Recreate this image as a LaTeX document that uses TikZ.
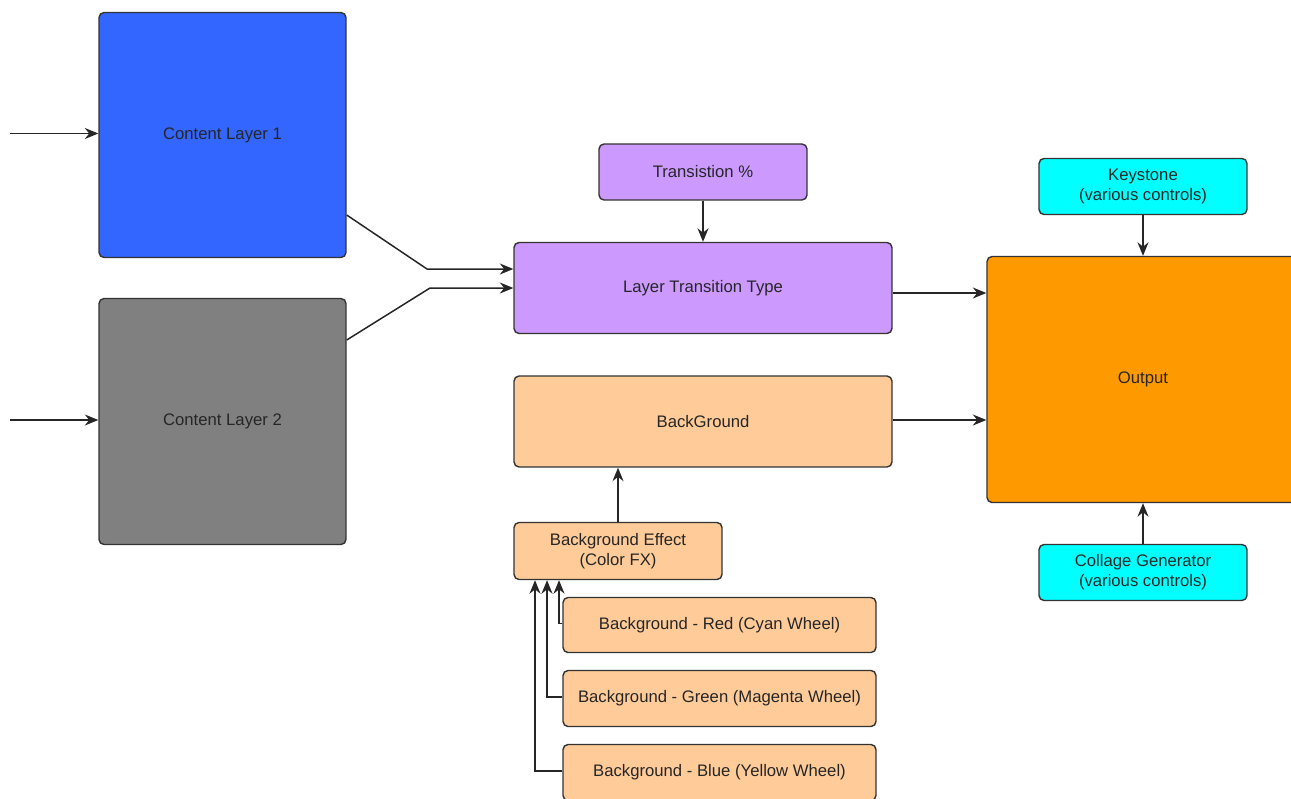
\documentclass[tikz,border=0pt]{standalone}
\usepackage{fontspec}
\setmainfont{Liberation Sans}
\usepackage{tikz}
\usetikzlibrary{arrows.meta}

\definecolor{layerblue}{HTML}{3366FF}
\definecolor{layergray}{HTML}{808080}
\definecolor{mixpurple}{HTML}{CC99FF}
\definecolor{bgpeach}{HTML}{FFCC99}
\definecolor{outorange}{HTML}{FF9900}
\definecolor{ctrlcyan}{HTML}{00FFFF}
\definecolor{edgegray}{HTML}{333333}

\tikzset{
  box/.style={draw=edgegray, line width=0.8pt, rounded corners=0.1cm, align=center,
    inner sep=0pt, text=black!85, font=\fontsize{9.5}{11.5}\selectfont},
  arr/.style={-{Stealth[length=0.27cm, width=0.22cm]}, line width=0.85pt, black!85}
}

\begin{document}
\begin{tikzpicture}[x=0.02cm, y=-0.02cm]
\clip (0,0) rectangle (1291,798);
% layers
\node[box, fill=layerblue, minimum width=4.94cm, minimum height=4.9cm] (cl1) at (222.5,135) {Content Layer 1};
\node[box, fill=layergray, minimum width=4.94cm, minimum height=4.92cm] (cl2) at (222.5,421.5) {Content Layer 2};
\coordinate (in1) at (10,133.5);
\coordinate (in2) at (10,420);
% transition
\node[box, fill=mixpurple, minimum width=4.16cm, minimum height=1.12cm] (trans) at (703,172) {Transistion \%};
\node[box, fill=mixpurple, minimum width=7.56cm, minimum height=1.82cm] (ltt) at (703,288) {Layer Transition Type};
% background
\node[box, fill=bgpeach, minimum width=7.56cm, minimum height=1.82cm] (bg) at (703,421.5) {BackGround};
\node[box, fill=bgpeach, minimum width=4.16cm, minimum height=1.14cm] (bgfx) at (618,551) {Background Effect\\(Color FX)};
\node[box, fill=bgpeach, minimum width=6.26cm, minimum height=1.1cm] (red) at (719.5,625) {Background - Red (Cyan Wheel)};
\node[box, fill=bgpeach, minimum width=6.26cm, minimum height=1.12cm] (green) at (719.5,698.5) {Background - Green (Magenta Wheel)};
\node[box, fill=bgpeach, minimum width=6.26cm, minimum height=1.12cm] (blue) at (719.5,772.5) {Background - Blue (Yellow Wheel)};
% output
\node[box, fill=ctrlcyan, minimum width=4.16cm, minimum height=1.12cm] (key) at (1143,186.5) {Keystone\\(various controls)};
\node[box, fill=outorange, minimum width=6.24cm, minimum height=4.92cm] (out) at (1143,379.5) {Output};
\node[box, fill=ctrlcyan, minimum width=4.16cm, minimum height=1.12cm] (collage) at (1143,572.5) {Collage Generator\\(various controls)};

\draw[arr] (in1) -- (in1 -| cl1.west);
\draw[arr] (in2) -- (in2 -| cl2.west);
\draw[arr] ([yshift=-1.6cm]cl1.east) -- (427,269) -- ([yshift=0.38cm]ltt.west);
\draw[arr] ([yshift=1.63cm]cl2.east) -- (430,288) -- (ltt.west);
\draw[arr] (trans) -- (ltt);
\draw[arr] ([yshift=-0.1cm]ltt.east) -- ([yshift=-0.1cm]ltt.east -| out.west);
\draw[arr] ([yshift=0.03cm]bg.east) -- ([yshift=0.03cm]bg.east -| out.west);
\draw[arr] (key) -- (out);
\draw[arr] (collage) -- (out);
\draw[arr] (bgfx) -- (bgfx |- bg.south);
\draw[arr] ([yshift=0.03cm]red.west) -| ([xshift=-1.18cm]bgfx.south);
\draw[arr] ([yshift=0.03cm]green.west) -| ([xshift=-1.42cm]bgfx.south);
\draw[arr] ([yshift=0.03cm]blue.west) -| ([xshift=-1.66cm]bgfx.south);
\end{tikzpicture}
\end{document}
